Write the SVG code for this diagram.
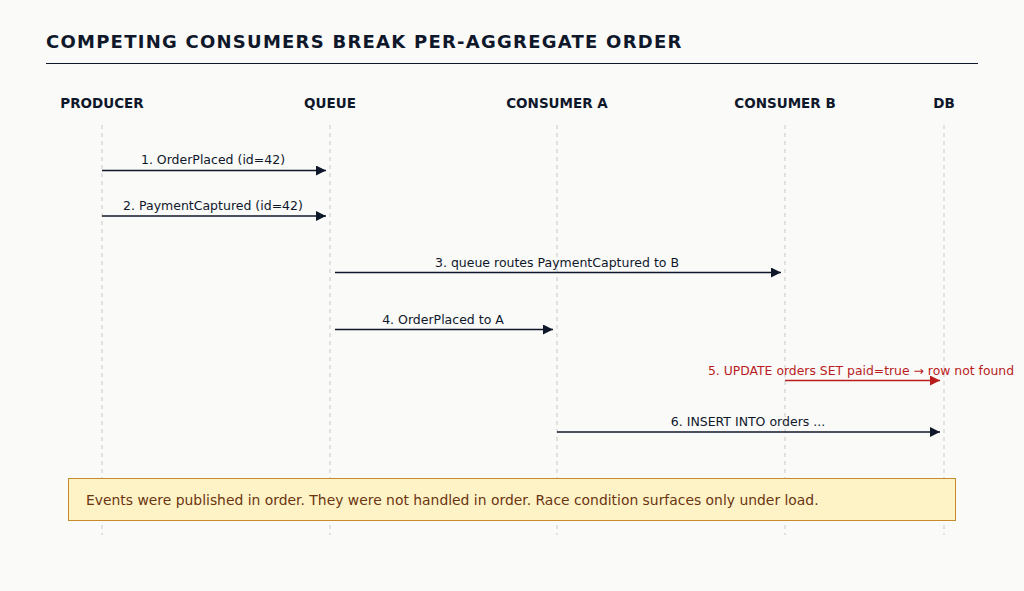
<svg xmlns="http://www.w3.org/2000/svg" width="1024" height="591" viewBox="0 0 1024 591">
<defs>
<style>
.title{font-family:"DejaVu Sans",sans-serif;font-weight:bold;font-size:18px;letter-spacing:1.25px;fill:#0f172a}
.hdr{font-family:"DejaVu Sans",sans-serif;font-weight:bold;font-size:13.5px;fill:#0f172a;text-anchor:middle}
.life{stroke:#c8c8c8;stroke-width:1;stroke-dasharray:4 4}
.msg{stroke:#0f172a;stroke-width:1.5;fill:none}
.err{stroke:#b91c1c;stroke-width:1.5;fill:none}
.lbl{font-family:"DejaVu Sans",sans-serif;font-size:12.5px;fill:#0f172a;text-anchor:middle}
.lblerr{font-family:"DejaVu Sans",sans-serif;font-size:12.4px;fill:#b91c1c;text-anchor:middle}
.note{font-family:"DejaVu Sans",sans-serif;font-size:13.9px;fill:#6b3510}
</style>
<marker id="ah" viewBox="0 0 10 10" refX="10" refY="5" markerWidth="10" markerHeight="10" markerUnits="userSpaceOnUse" orient="auto"><path d="M0,0 L10,5 L0,10 z" fill="#0f172a"/></marker>
<marker id="ahr" viewBox="0 0 10 10" refX="10" refY="5" markerWidth="10" markerHeight="10" markerUnits="userSpaceOnUse" orient="auto"><path d="M0,0 L10,5 L0,10 z" fill="#b91c1c"/></marker>
</defs>
<rect width="1024" height="591" fill="#fafaf9"/>
<text class="title" x="46" y="48">COMPETING CONSUMERS BREAK PER-AGGREGATE ORDER</text>
<line x1="46" y1="63.5" x2="978" y2="63.5" stroke="#0f172a" stroke-width="1"/>
<g id="producer"><text class="hdr" x="102" y="108">PRODUCER</text><line class="life" x1="102" y1="125" x2="102" y2="535"/></g>
<g id="queue"><text class="hdr" x="330" y="108">QUEUE</text><line class="life" x1="330" y1="125" x2="330" y2="535"/></g>
<g id="consumerA"><text class="hdr" x="557" y="108">CONSUMER A</text><line class="life" x1="557" y1="125" x2="557" y2="535"/></g>
<g id="consumerB"><text class="hdr" x="785" y="108">CONSUMER B</text><line class="life" x1="785" y1="125" x2="785" y2="535"/></g>
<g id="db"><text class="hdr" x="944" y="108">DB</text><line class="life" x1="944" y1="125" x2="944" y2="535"/></g>
<g id="connectors">
<line class="msg" x1="102" y1="170.5" x2="326" y2="170.5" marker-end="url(#ah)"/>
<text class="lbl" x="213" y="164">1. OrderPlaced (id=42)</text>
<line class="msg" x1="102" y1="216" x2="326" y2="216" marker-end="url(#ah)"/>
<text class="lbl" x="213" y="210">2. PaymentCaptured (id=42)</text>
<line class="msg" x1="335" y1="272.5" x2="781" y2="272.5" marker-end="url(#ah)"/>
<text class="lbl" x="557" y="267">3. queue routes PaymentCaptured to B</text>
<line class="msg" x1="335" y1="329.5" x2="553" y2="329.5" marker-end="url(#ah)"/>
<text class="lbl" x="443" y="324">4. OrderPlaced to A</text>
<line class="err" x1="785" y1="380.5" x2="940" y2="380.5" marker-end="url(#ahr)"/>
<text class="lblerr" x="861" y="375">5. UPDATE orders SET paid=true → row not found</text>
<line class="msg" x1="557" y1="432" x2="940" y2="432" marker-end="url(#ah)"/>
<text class="lbl" x="748" y="426">6. INSERT INTO orders ...</text>
</g>
<g id="note">
<rect x="68.5" y="478.5" width="887" height="42" fill="#fef3c7" stroke="#c98a2e" stroke-width="1"/>
<text class="note" x="86" y="505">Events were published in order. They were not handled in order. Race condition surfaces only under load.</text>
</g>
</svg>
